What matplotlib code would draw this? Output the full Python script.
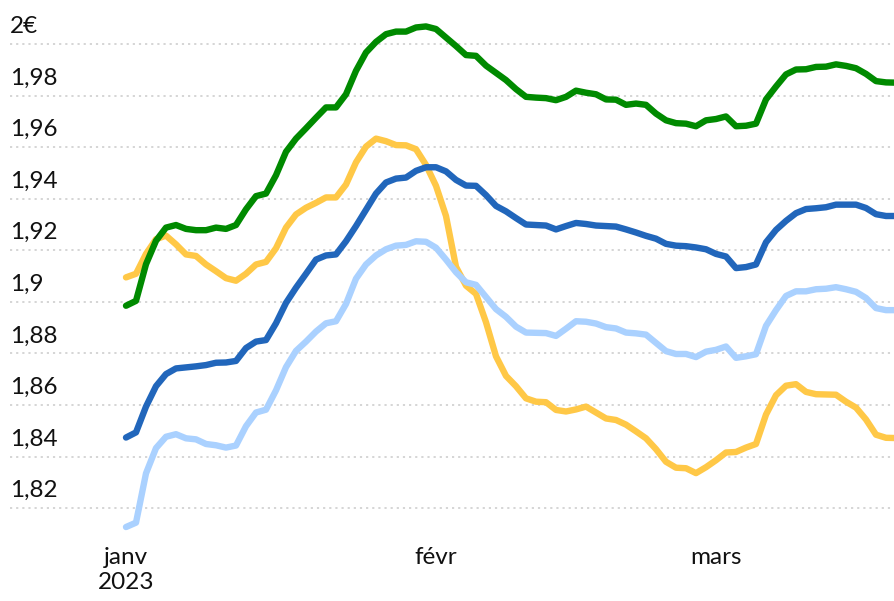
import numpy as np
import matplotlib
matplotlib.use("Agg")
import matplotlib.pyplot as plt
import matplotlib.dates as mdates
import matplotlib.transforms as mtransforms

# daily prices, 1 Jan 2023 -> 19 Mar 2023
dates = np.arange(np.datetime64('2023-01-01'), np.datetime64('2023-03-20'))

green = [1.8985, 1.9004, 1.9146, 1.9237, 1.9288, 1.9298, 1.9283, 1.9278, 1.9278, 1.9288,
         1.9283, 1.9298, 1.9359, 1.9410, 1.9420, 1.9491, 1.9582, 1.9633, 1.9673, 1.9714,
         1.9754, 1.9754, 1.9805, 1.9896, 1.9967, 2.0008, 2.0038, 2.0048, 2.0048, 2.0064,
         2.0068, 2.0058, 2.0025, 1.9992, 1.9957, 1.9954, 1.9916, 1.9888, 1.9860, 1.9825,
         1.9795, 1.9792, 1.9790, 1.9782, 1.9795, 1.9819, 1.9811, 1.9805, 1.9785, 1.9784,
         1.9764, 1.9769, 1.9764, 1.9730, 1.9704, 1.9693, 1.9691, 1.9681, 1.9704, 1.9709,
         1.9719, 1.9681, 1.9683, 1.9691, 1.9785, 1.9835, 1.9882, 1.9901, 1.9902, 1.9911,
         1.9912, 1.9921, 1.9915, 1.9906, 1.9884, 1.9856, 1.9851, 1.9850]

yellow = [1.9095, 1.9109, 1.9186, 1.9243, 1.9257, 1.9223, 1.9184, 1.9178, 1.9145, 1.9119,
          1.9092, 1.9082, 1.9109, 1.9145, 1.9155, 1.9208, 1.9288, 1.9339, 1.9365, 1.9384,
          1.9405, 1.9405, 1.9455, 1.9541, 1.9602, 1.9633, 1.9623, 1.9608, 1.9607, 1.9592,
          1.9531, 1.9450, 1.9333, 1.9136, 1.9063, 1.9031, 1.8921, 1.8789, 1.8713, 1.8673,
          1.8626, 1.8613, 1.8611, 1.8581, 1.8575, 1.8583, 1.8594, 1.8571, 1.8548, 1.8542,
          1.8524, 1.8498, 1.8471, 1.8429, 1.8380, 1.8357, 1.8355, 1.8336, 1.8359, 1.8386,
          1.8416, 1.8418, 1.8435, 1.8449, 1.8563, 1.8638, 1.8675, 1.8681, 1.8651, 1.8642,
          1.8641, 1.8640, 1.8613, 1.8590, 1.8544, 1.8485, 1.8473, 1.8472]

blue = [1.8474, 1.8494, 1.8594, 1.8673, 1.8720, 1.8742, 1.8746, 1.8750, 1.8755, 1.8764,
        1.8765, 1.8771, 1.8821, 1.8846, 1.8852, 1.8917, 1.8996, 1.9055, 1.9109, 1.9164,
        1.9180, 1.9184, 1.9235, 1.9294, 1.9357, 1.9420, 1.9463, 1.9478, 1.9482, 1.9508,
        1.9522, 1.9522, 1.9506, 1.9473, 1.9451, 1.9450, 1.9414, 1.9372, 1.9351, 1.9325,
        1.9300, 1.9298, 1.9296, 1.9281, 1.9294, 1.9306, 1.9302, 1.9296, 1.9294, 1.9292,
        1.9281, 1.9269, 1.9256, 1.9245, 1.9225, 1.9218, 1.9216, 1.9211, 1.9204, 1.9186,
        1.9176, 1.9131, 1.9135, 1.9145, 1.9231, 1.9279, 1.9314, 1.9344, 1.9360, 1.9363,
        1.9367, 1.9377, 1.9377, 1.9377, 1.9364, 1.9340, 1.9333, 1.9333]

lightblue = [1.8127, 1.8144, 1.8335, 1.8433, 1.8477, 1.8487, 1.8471, 1.8467, 1.8449, 1.8444,
             1.8435, 1.8443, 1.8518, 1.8571, 1.8582, 1.8657, 1.8747, 1.8810, 1.8846, 1.8885,
             1.8917, 1.8925, 1.8992, 1.9090, 1.9145, 1.9180, 1.9204, 1.9218, 1.9221, 1.9235,
             1.9233, 1.9210, 1.9164, 1.9115, 1.9076, 1.9066, 1.9019, 1.8972, 1.8942, 1.8904,
             1.8881, 1.8880, 1.8879, 1.8868, 1.8896, 1.8925, 1.8923, 1.8916, 1.8902, 1.8897,
             1.8881, 1.8878, 1.8873, 1.8841, 1.8809, 1.8798, 1.8798, 1.8786, 1.8807, 1.8814,
             1.8827, 1.8783, 1.8789, 1.8797, 1.8907, 1.8968, 1.9023, 1.9041, 1.9041, 1.9049,
             1.9051, 1.9057, 1.9049, 1.9039, 1.9015, 1.8976, 1.8968, 1.8968]

ytick_vals = [1.82, 1.84, 1.86, 1.88, 1.90, 1.92, 1.94, 1.96, 1.98, 2.00]
ytick_labels = ['1,82', '1,84', '1,86', '1,88', '1,9', '1,92', '1,94', '1,96', '1,98', '2€']
xtick_dates = ['2023-01-01', '2023-02-01', '2023-03-01']
xtick_labels = ['janv\n2023', 'févr', 'mars']

plt.rcParams['font.family'] = ['Lato', 'DejaVu Sans']

fig = plt.figure(figsize=(8.95, 6.01), dpi=100)
W, H = 895, 601
ax = fig.add_axes([10 / W, (H - 534) / H, 885 / W, 534 / H])

x = mdates.date2num(dates)
x0 = x[0]
ax.set_xlim(x0 - 11.6, x0 + 76.9)
ax.set_ylim(1.81, 2.01705)

for v in ytick_vals:
    ax.axhline(v, color='#d2d2d2', lw=1.3, linestyle=(0, (1.2, 2.2)), zorder=1)

style = dict(lw=4.6, solid_capstyle='round', solid_joinstyle='round')
ax.plot(x, yellow, color='#ffc847', zorder=2, **style)
ax.plot(x, lightblue, color='#aad1ff', zorder=3, **style)
ax.plot(x, blue, color='#2166bb', zorder=4, **style)
ax.plot(x, green, color='#008a00', zorder=5, **style)

# y labels sit above their gridline, at the left edge
trans = mtransforms.blended_transform_factory(ax.transAxes, ax.transData)
off = mtransforms.offset_copy(trans, fig=fig, x=0, y=7, units='dots')
for v, lab in zip(ytick_vals, ytick_labels):
    ax.text(0, v, lab, transform=off, ha='left', va='bottom', fontsize=17.5, color='#111111')

ax.set_yticks([])
ax.set_xticks(mdates.date2num(np.array(xtick_dates, dtype='datetime64[D]')))
ax.set_xticklabels(xtick_labels, fontsize=17.5, color='#111111', linespacing=1.25)
ax.tick_params(axis='x', length=0, pad=9)

for s in ax.spines.values():
    s.set_visible(False)

fig.savefig('out.png', dpi=100)
